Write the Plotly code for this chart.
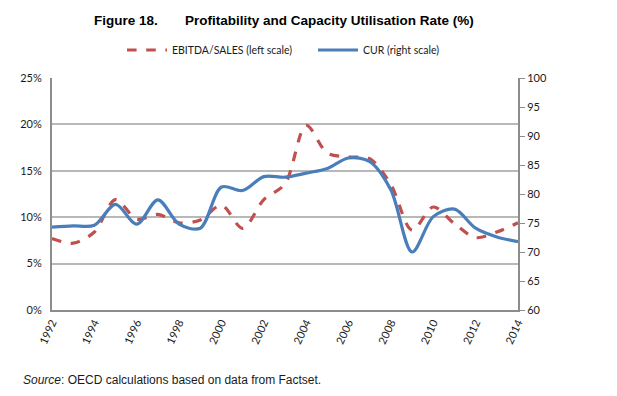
import plotly.graph_objects as go

years = list(range(1992, 2015))
ebitda_sales = [7.7, 7.2, 8.4, 11.9, 9.8, 10.3, 9.4, 9.7, 11.3, 8.8, 11.9, 13.6, 19.9,
                16.9, 16.5, 16.3, 13.5, 8.6, 11.1, 9.3, 7.8, 8.4, 9.4]
cur = [74.3, 74.5, 74.6, 78.2, 74.8, 79.0, 74.8, 74.1, 81.2, 80.6, 83.0, 82.9, 83.6,
       84.4, 86.2, 85.6, 80.7, 70.0, 76.1, 77.4, 74.1, 72.6, 71.8]
left_ticks = [0, 5, 10, 15, 20, 25]
left_labels = ["0%", "5%", "10%", "15%", "20%", "25%"]
right_ticks = [60, 65, 70, 75, 80, 85, 90, 95, 100]
x_ticks = list(range(1992, 2015, 2))

# page body has an 8px margin; compensate so the plot lands where the reference has it
OFF = 8
L, T, R, B = 52, 78, 518, 310
W, H = 617, 396
pw, ph = R - L, B - T

def px(x):
    return (x - L) / pw

def py(y):
    return (B - y) / ph

fig = go.Figure()
fig.add_trace(go.Scatter(
    x=years, y=ebitda_sales, name="EBITDA/SALES (left scale)", mode="lines",
    line=dict(color="#c0504d", width=3.2, dash="dash", shape="spline", smoothing=0.9),
    yaxis="y"))
fig.add_trace(go.Scatter(
    x=years, y=cur, name="CUR (right scale)", mode="lines",
    line=dict(color="#4a7ebb", width=3.2, shape="spline", smoothing=0.9),
    yaxis="y2"))

tick_font = dict(family="Lato, Noto Sans, sans-serif", size=11, color="#1a1a1a")

fig.update_layout(
    width=W, height=H,
    margin=dict(l=L - OFF, r=W - R + OFF, t=T - OFF, b=H - B + OFF),
    paper_bgcolor="white", plot_bgcolor="white",
    showlegend=True,
    legend=dict(orientation="h", x=px(122), y=py(50), xanchor="left", yanchor="middle",
                font=dict(family="Lato, Noto Sans, sans-serif", size=10.5, color="#1a1a1a"),
                entrywidth=136, itemwidth=40, bgcolor="rgba(0,0,0,0)"),
    xaxis=dict(range=[1992, 2014], tickvals=x_ticks, ticktext=[str(v) for v in x_ticks],
               tickangle=-65, showgrid=False, zeroline=False, showline=True,
               linecolor="#8c8c8c", linewidth=2, ticks="", tickfont=tick_font),
    yaxis=dict(range=[0, 25], tickvals=left_ticks, ticktext=left_labels,
               showgrid=True, gridcolor="#b8b8b8", gridwidth=1.5, zeroline=False,
               showline=True, linecolor="#8c8c8c", linewidth=2, ticks="",
               tickfont=tick_font, ticklabelstandoff=6),
    yaxis2=dict(range=[60, 100], tickvals=right_ticks, overlaying="y", side="right",
                showgrid=False, zeroline=False, showline=True, linecolor="#8c8c8c",
                linewidth=2, ticks="outside", ticklen=5, tickcolor="#8c8c8c",
                tickfont=tick_font),
)

fig.add_annotation(text="<b>Figure 18.</b>", xref="paper", yref="paper",
                   x=px(92), y=py(20), xanchor="left", yanchor="middle",
                   showarrow=False, font=dict(family="Arial, Liberation Sans", size=13.5, color="black"))
fig.add_annotation(text="<b>Profitability and Capacity Utilisation Rate (%)</b>", xref="paper", yref="paper",
                   x=px(183), y=py(20), xanchor="left", yanchor="middle",
                   showarrow=False, font=dict(family="Arial, Liberation Sans", size=13.5, color="black"))
fig.add_annotation(text="<i>Source</i>: OECD calculations based on data from Factset.", xref="paper", yref="paper",
                   x=px(21), y=py(380), xanchor="left", yanchor="middle",
                   showarrow=False, font=dict(family="Arial, Liberation Sans", size=12, color="#1a1a1a"))

fig.write_html("out.html")
